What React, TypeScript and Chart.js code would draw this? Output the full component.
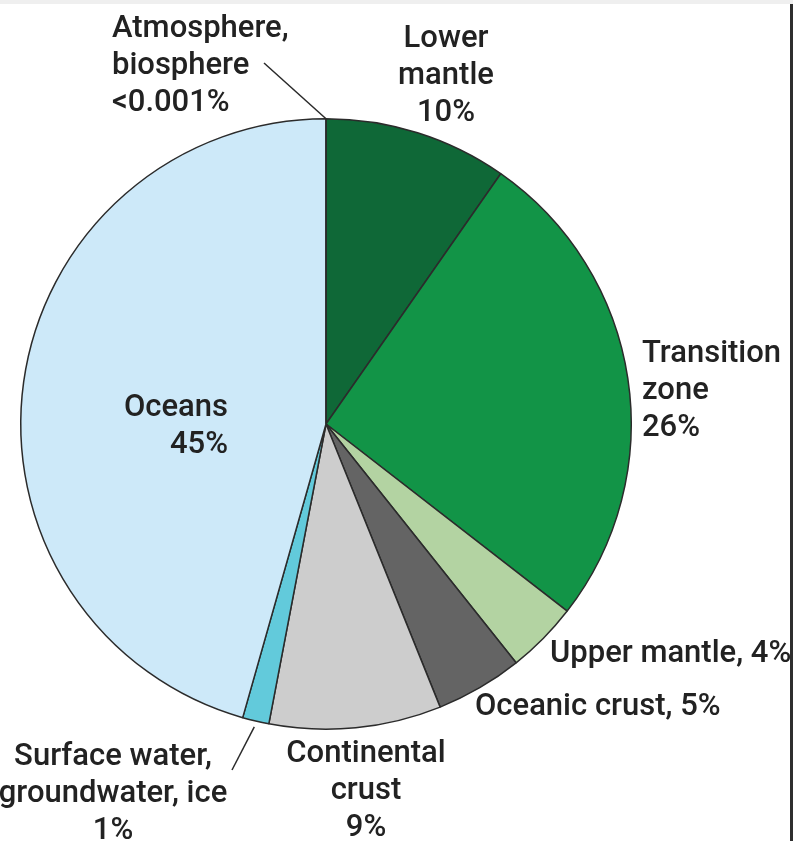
import React, { useEffect, useRef } from "react";
import { Chart, registerables } from "chart.js";

Chart.register(...registerables);

// ---- data ----
const categories = [
  "Lower mantle",
  "Transition zone",
  "Upper mantle",
  "Oceanic crust",
  "Continental crust",
  "Surface water, groundwater, ice",
  "Oceans",
  "Atmosphere, biosphere",
];
const shares = [9.7, 25.8, 3.8, 4.6, 9.1, 1.4, 45.6, 0.001];
const shareLabels = ["10%", "26%", "4%", "5%", "9%", "1%", "45%", "<0.001%"];
const sliceColors = [
  "#0f6837",
  "#129447",
  "#b3d3a2",
  "#646464",
  "#cdcdcd",
  "#62cadb",
  "#cde9f9",
  "#cde9f9",
];

// label text lines (built from names + shares)
const labelLines: string[][] = [
  ["Lower", "mantle", shareLabels[0]],
  ["Transition", "zone", shareLabels[1]],
  ["Upper mantle, " + shareLabels[2]],
  ["Oceanic crust, " + shareLabels[3]],
  ["Continental", "crust", shareLabels[4]],
  ["Surface water,", "groundwater, ice", shareLabels[5]],
  ["Oceans", shareLabels[6]],
  ["Atmosphere,", "biosphere", shareLabels[7]],
];

// label placement (x, first baseline y, alignment)
const labelPlacement: { x: number; y: number; align: CanvasTextAlign }[] = [
  { x: 446, y: 47, align: "center" },
  { x: 642, y: 362, align: "left" },
  { x: 550, y: 662, align: "left" },
  { x: 475, y: 715, align: "left" },
  { x: 366, y: 762, align: "center" },
  { x: 113, y: 765, align: "center" },
  { x: 228, y: 416, align: "right" },
  { x: 112, y: 37, align: "left" },
];
const LINE_HEIGHT = 37;

const labelPlugin = {
  id: "sliceLabels",
  afterDraw(chart: any) {
    const ctx = chart.ctx as CanvasRenderingContext2D;
    const meta = chart.getDatasetMeta(0);
    ctx.save();
    // leader lines
    ctx.strokeStyle = "#2a2a2a";
    ctx.lineWidth = 1.5;
    const top = meta.data[0].getProps(["x", "y", "outerRadius"], true);
    ctx.beginPath();
    ctx.moveTo(264, 63);
    ctx.lineTo(top.x, top.y - top.outerRadius);
    ctx.stroke();
    const sw = meta.data[5].getProps(["x", "y", "startAngle", "endAngle", "outerRadius"], true);
    const mid = (sw.startAngle + sw.endAngle) / 2;
    ctx.beginPath();
    ctx.moveTo(232, 770);
    ctx.lineTo(sw.x + Math.cos(mid) * (sw.outerRadius + 6), sw.y + Math.sin(mid) * (sw.outerRadius + 6));
    ctx.stroke();

    // texts
    ctx.fillStyle = "#222222";
    ctx.font = "500 31px Roboto";
    ctx.textBaseline = "alphabetic";
    labelLines.forEach((lines, i) => {
      const p = labelPlacement[i];
      ctx.textAlign = p.align;
      lines.forEach((t, j) => ctx.fillText(t, p.x, p.y + j * LINE_HEIGHT));
    });
    ctx.restore();
  },
};

export default function App() {
  const ref = useRef<HTMLCanvasElement | null>(null);
  useEffect(() => {
    if (!ref.current) return;
    const chart = new Chart(ref.current, {
      type: "pie",
      data: {
        labels: categories,
        datasets: [
          {
            data: shares,
            backgroundColor: sliceColors,
            borderColor: "#2b2b2b",
            borderWidth: 1.5,
          },
        ],
      },
      options: {
        responsive: false,
        animation: false,
        layout: { padding: { left: 20, right: 161, top: 118, bottom: 111 } },
        plugins: {
          legend: { display: false },
          tooltip: { enabled: false },
          title: { display: false },
        },
      },
      plugins: [labelPlugin],
    });
    return () => chart.destroy();
  }, []);

  return (
    <div
      style={{
        position: "absolute",
        left: 0,
        top: 0,
        width: 793,
        height: 841,
        background: "#ffffff",
        overflow: "hidden",
      }}
    >
      <div style={{ position: "absolute", left: 0, top: 0, width: 793, height: 4, background: "#efefef" }} />
      <div style={{ position: "absolute", left: 790, top: 4, width: 3, height: 837, background: "#2e2e2e" }} />
      <canvas ref={ref} width={793} height={841} style={{ position: "absolute", left: 0, top: 0 }} />
    </div>
  );
}
